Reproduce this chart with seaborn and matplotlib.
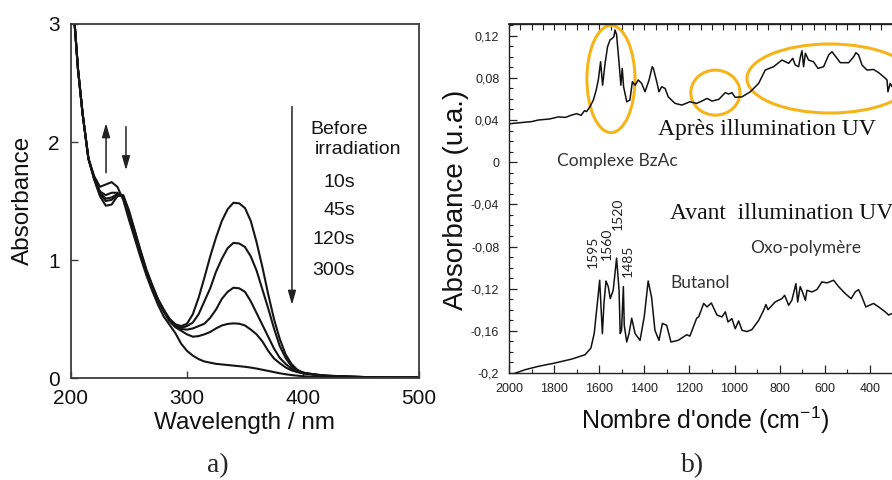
import numpy as np
import pandas as pd
import seaborn as sns
import matplotlib
matplotlib.use("Agg")
import matplotlib.pyplot as plt
from matplotlib.patches import Ellipse
from matplotlib.ticker import FixedLocator, FixedFormatter, MultipleLocator

# ---------------- Panel a data (UV-Vis) ----------------
wavelength = [203, 206, 210, 215, 220, 225, 230, 235, 240, 245, 250, 255, 260, 265, 270, 275, 280, 285, 290,
              295, 300, 305, 310, 315, 320, 325, 330, 335, 340, 345, 350, 355, 360, 365, 370, 375, 380, 385, 390, 395, 400,
              410, 420, 440, 460, 480, 500]
abs_before = [3.02, 2.62, 2.24, 1.86, 1.68, 1.54, 1.46, 1.47, 1.54, 1.55, 1.42, 1.25, 1.08, 0.92, 0.79, 0.67, 0.58, 0.50, 0.455,
              0.44, 0.46, 0.54, 0.68, 0.85, 1.03, 1.19, 1.33, 1.43, 1.485, 1.48, 1.44, 1.33, 1.15, 0.94, 0.71, 0.50, 0.33, 0.20, 0.12, 0.07, 0.045,
              0.03, 0.02, 0.012, 0.006, 0.004, 0.005]
abs_10s = [3.02, 2.62, 2.24, 1.86, 1.69, 1.56, 1.50, 1.51, 1.55, 1.545, 1.40, 1.24, 1.07, 0.91, 0.78, 0.66, 0.57, 0.50, 0.45,
           0.425, 0.44, 0.47, 0.54, 0.65, 0.76, 0.90, 1.01, 1.10, 1.145, 1.14, 1.11, 1.03, 0.91, 0.75, 0.59, 0.42, 0.27, 0.17, 0.10, 0.065, 0.045,
           0.03, 0.02, 0.012, 0.006, 0.004, 0.005]
abs_45s = [3.02, 2.62, 2.24, 1.86, 1.69, 1.57, 1.52, 1.53, 1.56, 1.54, 1.39, 1.23, 1.06, 0.90, 0.77, 0.66, 0.57, 0.49, 0.445,
           0.415, 0.41, 0.42, 0.44, 0.46, 0.51, 0.58, 0.67, 0.73, 0.765, 0.76, 0.73, 0.65, 0.55, 0.45, 0.35, 0.25, 0.17, 0.12, 0.08, 0.055, 0.04,
           0.028, 0.018, 0.011, 0.006, 0.004, 0.005]
abs_120s = [3.02, 2.62, 2.24, 1.86, 1.70, 1.58, 1.55, 1.57, 1.57, 1.53, 1.37, 1.21, 1.05, 0.89, 0.76, 0.65, 0.56, 0.48, 0.43,
            0.40, 0.37, 0.35, 0.355, 0.37, 0.39, 0.42, 0.445, 0.458, 0.463, 0.46, 0.445, 0.41, 0.37, 0.31, 0.23, 0.165, 0.125, 0.09, 0.065, 0.05, 0.04,
            0.028, 0.018, 0.011, 0.006, 0.004, 0.005]
abs_300s = [3.02, 2.62, 2.24, 1.86, 1.71, 1.62, 1.64, 1.66, 1.62, 1.51, 1.34, 1.18, 1.02, 0.87, 0.74, 0.62, 0.52, 0.45, 0.38,
            0.29, 0.23, 0.19, 0.16, 0.14, 0.13, 0.12, 0.115, 0.11, 0.105, 0.10, 0.095, 0.088, 0.08, 0.07, 0.06, 0.05, 0.04, 0.032, 0.025, 0.02, 0.015,
            0.01, 0.008, 0.005, 0.003, 0.002, 0.003]
series_a = {"Before irradiation": abs_before, "10s": abs_10s, "45s": abs_45s, "120s": abs_120s, "300s": abs_300s}
xticks_a = [200, 300, 400, 500]
yticks_a = [0, 1, 2, 3]

# ---------------- Panel b data (IR) ----------------
nu_apres = [2000, 1950, 1900, 1870, 1820, 1780, 1750, 1722, 1700, 1680, 1665, 1656, 1640, 1626, 1614, 1604,
            1594, 1585, 1574, 1563, 1552, 1542, 1535, 1530, 1523, 1512, 1504, 1498, 1492, 1478, 1464, 1453,
            1441, 1427, 1412, 1397, 1379, 1365, 1360, 1345, 1335, 1323, 1308, 1294, 1264, 1234, 1198, 1168,
            1145, 1122, 1100, 1070, 1041, 1026, 1012, 997, 967, 930, 893, 864, 827, 790,
            760, 742, 731, 716, 707, 701, 694, 686, 672, 650, 630, 605, 583, 568,
            551, 531, 494, 472, 462, 450, 435, 413, 384, 361, 339, 324, 320, 310, 302]
abs_apres = [0.0364, 0.0375, 0.0385, 0.040, 0.041, 0.043, 0.0425, 0.0447, 0.046, 0.0445, 0.049, 0.048, 0.053, 0.059, 0.068, 0.078,
             0.0953, 0.073, 0.094, 0.1096, 0.116, 0.1175, 0.119, 0.1254, 0.121, 0.094, 0.073, 0.089, 0.0716, 0.0573, 0.059, 0.0763,
             0.073, 0.078, 0.0748, 0.0668, 0.078, 0.0906, 0.089, 0.0763, 0.0668, 0.0716, 0.070, 0.062, 0.0558, 0.0542, 0.0573, 0.0558,
             0.058, 0.0605, 0.058, 0.0596, 0.066, 0.0646, 0.066, 0.0615, 0.062, 0.0668, 0.0748, 0.0874, 0.0906, 0.0969,
             0.0938, 0.0985, 0.0922, 0.0906, 0.101, 0.1057, 0.0906, 0.1033, 0.0969, 0.0953, 0.089, 0.0906, 0.1017, 0.1048,
             0.100, 0.0944, 0.0944, 0.100, 0.1039, 0.1017, 0.0922, 0.0874, 0.088, 0.0849, 0.081, 0.078, 0.0668, 0.0748, 0.0716]

nu_avant = [1975, 1950, 1929, 1870, 1796, 1722, 1663, 1637, 1622, 1607, 1598, 1586, 1579, 1570, 1560, 1551,
            1538, 1523, 1512, 1507, 1501, 1493, 1489, 1478, 1468, 1456, 1441, 1419, 1400, 1383, 1368, 1353,
            1335, 1320, 1301, 1282, 1250, 1212, 1198, 1168, 1159, 1137, 1122, 1103, 1078, 1056, 1041, 1029,
            1012, 997, 982, 967, 945, 923, 893, 871, 861, 852, 820, 790, 778, 760,
            746, 728, 720, 709, 699, 686, 679, 657, 635, 613, 590, 561, 539, 509,
            483, 465, 450, 435, 418, 384, 361, 332, 317, 302]
abs_avant = [-0.2003, -0.1985, -0.1969, -0.1937, -0.1905, -0.1868, -0.1827, -0.1764, -0.1622, -0.131, -0.112, -0.1626, -0.134, -0.1127, -0.118, -0.1294,
             -0.1215, -0.091, -0.1215, -0.1626, -0.1595, -0.118, -0.155, -0.1706, -0.1626, -0.148, -0.1626, -0.169, -0.146, -0.1127, -0.128, -0.1595,
             -0.169, -0.153, -0.1547, -0.1706, -0.169, -0.1637, -0.165, -0.148, -0.1468, -0.134, -0.1373, -0.1336, -0.145, -0.1468, -0.142, -0.1516,
             -0.1484, -0.158, -0.1506, -0.1595, -0.1607, -0.1588, -0.150, -0.1405, -0.135, -0.140, -0.1326, -0.1294, -0.1263, -0.1357,
             -0.131, -0.1152, -0.1326, -0.118, -0.1231, -0.131, -0.1215, -0.1231, -0.1209, -0.1136, -0.1145, -0.112, -0.118, -0.1247,
             -0.1295, -0.1231, -0.1209, -0.128, -0.1373, -0.134, -0.1373, -0.142, -0.145, -0.1436]

xticks_b = [2000, 1800, 1600, 1400, 1200, 1000, 800, 600, 400]
yticks_b = [-0.2, -0.16, -0.12, -0.08, -0.04, 0, 0.04, 0.08, 0.12]
ytick_labels_b = ["-0,2", "-0,16", "-0,12", "-0,08", "-0,04", "0", "0,04", "0,08", "0,12"]
peak_labels = ["1595", "1560", "1520", "1485"]
peak_pos = [1628, 1566, 1517, 1473]
peak_label_base = [-0.1006, -0.0925, -0.0645, -0.109]

# ---------------- Figure ----------------
sns.set_theme(style="white")
plt.rcParams["font.family"] = ["Liberation Sans", "DejaVu Sans"]
plt.rcParams["mathtext.default"] = "regular"

W, H = 892, 480
fig = plt.figure(figsize=(W / 100, H / 100), dpi=100)
axa = fig.add_axes([71 / W, (H - 378) / H, 348 / W, 354 / H])
axb = fig.add_axes([509 / W, (H - 373) / H, 383 / W, 349 / H])

# ----- Panel a -----
for name, vals in series_a.items():
    df = pd.DataFrame({"wavelength": wavelength, "absorbance": vals})
    sns.lineplot(data=df, x="wavelength", y="absorbance", ax=axa, color="#151515",
                 lw=1.5, sort=False, estimator=None)
axa.set_xlim(200, 500)
axa.set_ylim(0, 3)
axa.set_xticks(xticks_a)
axa.set_yticks(yticks_a)
for sp in axa.spines.values():
    sp.set_visible(True)
    sp.set_color("#3c3c3c")
    sp.set_linewidth(1.3)
axa.tick_params(axis="both", direction="in", length=5, width=1.0, color="#3c3c3c",
                labelsize=15, pad=8, bottom=True, left=True, labelcolor="#111111")
axa.set_xlabel("Wavelength / nm", fontsize=17.5, color="#111111")
axa.set_ylabel("Absorbance", fontsize=17.5, color="#111111")
axa.xaxis.label.set_va("center")
axa.yaxis.label.set_va("center")
axa.xaxis.set_label_coords(0.5, -0.127)
axa.yaxis.set_label_coords(-0.138, 0.503)

arrow_kw = dict(arrowstyle="-|>,head_length=0.7,head_width=0.2", color="#222222", lw=1.1, shrinkA=0, shrinkB=0)
axa.annotate("", xy=(390.5, 0.62), xytext=(390.5, 2.30), arrowprops=arrow_kw)
axa.annotate("", xy=(230.2, 2.16), xytext=(230.2, 1.74), arrowprops=arrow_kw)
axa.annotate("", xy=(247.4, 1.76), xytext=(247.4, 2.13), arrowprops=arrow_kw)

txt_kw = dict(fontsize=14, color="#151515", va="center")
axa.text(406, 2.107, "Before", ha="left", **txt_kw)
axa.text(410, 1.938, "irradiation", ha="left", **txt_kw)
for lab, yy in zip(["10s", "45s", "120s", "300s"], [1.655, 1.418, 1.17, 0.915]):
    axa.text(445, yy, lab, ha="right", **txt_kw)

# ----- Panel b -----
dfb1 = pd.DataFrame({"nu": nu_apres, "abs": abs_apres})
dfb2 = pd.DataFrame({"nu": nu_avant, "abs": abs_avant})
sns.lineplot(data=dfb1, x="nu", y="abs", ax=axb, color="#111111", lw=1.1, sort=False, estimator=None)
sns.lineplot(data=dfb2, x="nu", y="abs", ax=axb, color="#111111", lw=1.1, sort=False, estimator=None)
axb.set_xlim(2000, 302)
axb.set_ylim(-0.2, 0.1311)
axb.spines["right"].set_visible(False)
for s in ["left", "top", "bottom"]:
    axb.spines[s].set_visible(True)
    axb.spines[s].set_color("#222222")
    axb.spines[s].set_linewidth(1.0)
axb.xaxis.set_major_locator(FixedLocator(xticks_b))
axb.xaxis.set_minor_locator(MultipleLocator(100))
axb.yaxis.set_major_locator(FixedLocator(yticks_b))
axb.yaxis.set_major_formatter(FixedFormatter(ytick_labels_b))
axb.yaxis.set_minor_locator(MultipleLocator(0.01))
axb.tick_params(axis="both", which="both", direction="in", color="#222222", bottom=True, left=True,
                labelsize=9, labelcolor="#222222")
axb.tick_params(axis="both", which="major", length=6, width=0.9, pad=7)
axb.tick_params(axis="both", which="minor", length=3, width=0.8)
sec = axb.secondary_xaxis("top")
sec.xaxis.set_major_locator(MultipleLocator(50))
sec.tick_params(axis="x", direction="in", length=4, width=0.8, color="#222222", labeltop=False, top=True)
sec.spines["top"].set_color("#222222")

axb.set_xlabel("Nombre d'onde (cm$^{-1}$)", fontsize=18, color="#111111")
axb.set_ylabel("Absorbance (u.a.)", fontsize=20, color="#111111")
axb.xaxis.label.set_va("center")
axb.yaxis.label.set_va("center")
axb.xaxis.set_label_coords(0.512, -0.135)
axb.yaxis.set_label_coords(-0.138, 0.496)

ell_color = "#F4B41A"
for (cx, cy, w, h) in [(1548, 0.0789, 213, 0.1016), (1085, 0.066, 218, 0.0427), (577, 0.0794, 736, 0.0655)]:
    axb.add_patch(Ellipse((cx, cy), w, h, fill=False, edgecolor=ell_color, lw=2.2, zorder=1))

axb.text(1340, 0.0314, "Après illumination UV", family="Liberation Serif", fontsize=17, ha="left", va="center", color="#111111")
axb.text(1286, -0.0485, "Avant  illumination UV", family="Liberation Serif", fontsize=17, ha="left", va="center", color="#111111")
axb.text(1519, 0.0013, "Complexe BzAc", family="Lato", fontsize=12.5, ha="center", va="center", color="#333333")
axb.text(1286, -0.115, "Butanol", family="Lato", fontsize=12.5, ha="left", va="center", color="#333333")
axb.text(932, -0.0818, "Oxo-polymère", family="Lato", fontsize=12.5, ha="left", va="center", color="#333333")
for lab, px, py in zip(peak_labels, peak_pos, peak_label_base):
    axb.text(px, py, lab, family="Lato", fontsize=10, rotation=90, ha="center", va="bottom", color="#222222")

fig.text(218 / W, 1 - 466 / H, "a)", family="Liberation Serif", fontsize=20, ha="center", va="center")
fig.text(693 / W, 1 - 466 / H, "b)", family="Liberation Serif", fontsize=20, ha="center", va="center")

fig.savefig("out.png", dpi=100)
